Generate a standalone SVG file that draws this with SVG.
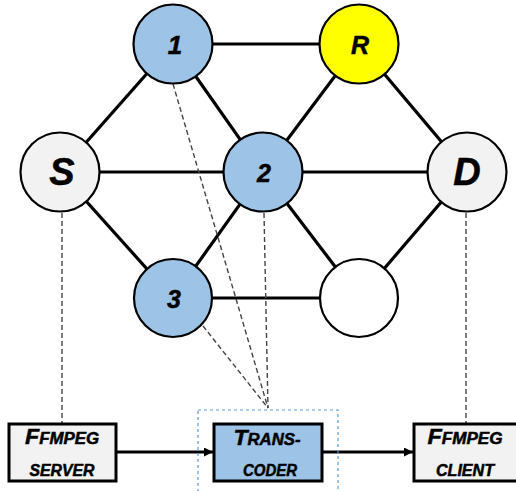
<svg xmlns="http://www.w3.org/2000/svg" width="516" height="491" viewBox="0 0 516 491">
<style>
.edge{stroke:#000;stroke-width:3.2;fill:none}
.dash{stroke:#444;stroke-width:1.4;stroke-dasharray:5 3;fill:none}
.node{stroke:#000;stroke-width:2.2}
.lbl{font-family:"Liberation Sans",Arial,sans-serif;font-weight:bold;font-style:italic;fill:#000;text-anchor:middle;stroke:#000;stroke-width:0.5}
.box{stroke:#000;stroke-width:3}
</style>
<defs>
<marker id="arr" viewBox="0 0 10 10" refX="10" refY="5" markerWidth="9" markerHeight="9" markerUnits="userSpaceOnUse" orient="auto">
<path d="M0,0 L10,5 L0,10 z" fill="#000"/>
</marker>
</defs>
<rect width="516" height="491" fill="#fff"/>
<g id="connectors">
<line class="edge" x1="173" y1="44" x2="359" y2="44"/>
<line class="edge" x1="173" y1="44" x2="60" y2="172"/>
<line class="edge" x1="173" y1="44" x2="263" y2="172"/>
<line class="edge" x1="359" y1="44" x2="263" y2="172"/>
<line class="edge" x1="359" y1="44" x2="467" y2="172"/>
<line class="edge" x1="60" y1="172" x2="467" y2="172"/>
<line class="edge" x1="60" y1="172" x2="173" y2="298"/>
<line class="edge" x1="263" y1="172" x2="173" y2="298"/>
<line class="edge" x1="263" y1="172" x2="359" y2="298"/>
<line class="edge" x1="467" y1="172" x2="359" y2="298"/>
<line class="edge" x1="173" y1="298" x2="359" y2="298"/>
<line class="dash" x1="62" y1="213" x2="62" y2="423"/>
<line class="dash" x1="466" y1="213" x2="466" y2="423"/>
<line class="dash" x1="264" y1="213" x2="268" y2="408"/>
<line class="dash" x1="173" y1="84" x2="268" y2="408"/>
<line class="dash" x1="203" y1="326" x2="268" y2="408"/>
<line class="edge" x1="116" y1="452" x2="213" y2="452" marker-end="url(#arr)"/>
<line class="edge" x1="322" y1="452" x2="413" y2="452" marker-end="url(#arr)"/>
</g>
<g id="node-1"><circle class="node" cx="173" cy="44" r="39.5" fill="#9dc3e6"/><text class="lbl" x="175" y="54" font-size="26">1</text></g>
<g id="node-R"><circle class="node" cx="359" cy="44" r="39.5" fill="#ffff00"/><text class="lbl" x="360" y="54" font-size="25">R</text></g>
<g id="node-S"><circle class="node" cx="60" cy="172" r="39.5" fill="#f2f2f2"/><text class="lbl" x="62" y="185" font-size="38">S</text></g>
<g id="node-2"><circle class="node" cx="263" cy="172" r="39.5" fill="#9dc3e6"/><text class="lbl" x="264" y="182" font-size="25">2</text></g>
<g id="node-D"><circle class="node" cx="467" cy="172" r="39.5" fill="#f2f2f2"/><text class="lbl" x="467" y="185" font-size="38">D</text></g>
<g id="node-3"><circle class="node" cx="173" cy="298" r="39" fill="#9dc3e6"/><text class="lbl" x="174" y="308" font-size="25">3</text></g>
<g id="node-empty"><circle class="node" cx="359" cy="298" r="39" fill="#fff"/></g>
<g id="transcoder-zone"><rect x="198" y="410" width="140" height="90" fill="none" stroke="#5b9bd5" stroke-width="1.2" stroke-dasharray="3 3"/></g>
<g id="server">
<rect class="box" x="9" y="424" width="107" height="57" fill="#f2f2f2"/>
<text class="lbl" x="62" y="444" textLength="74" lengthAdjust="spacingAndGlyphs"><tspan font-size="22">F</tspan><tspan font-size="16">FMPEG</tspan></text>
<text class="lbl" x="62" y="476" font-size="16" textLength="65" lengthAdjust="spacingAndGlyphs">SERVER</text>
</g>
<g id="transcoder">
<rect class="box" x="214" y="424" width="108" height="57" fill="#9dc3e6"/>
<text class="lbl" x="267" y="445" textLength="67" lengthAdjust="spacingAndGlyphs"><tspan font-size="22">T</tspan><tspan font-size="16">RANS-</tspan></text>
<text class="lbl" x="270" y="476" font-size="16" textLength="54" lengthAdjust="spacingAndGlyphs">CODER</text>
</g>
<g id="client">
<rect class="box" x="414" y="424" width="108" height="57" fill="#f2f2f2"/>
<text class="lbl" x="465" y="444" textLength="75" lengthAdjust="spacingAndGlyphs"><tspan font-size="22">F</tspan><tspan font-size="16">FMPEG</tspan></text>
<text class="lbl" x="465" y="476" font-size="16" textLength="58" lengthAdjust="spacingAndGlyphs">CLIENT</text>
</g>
</svg>
